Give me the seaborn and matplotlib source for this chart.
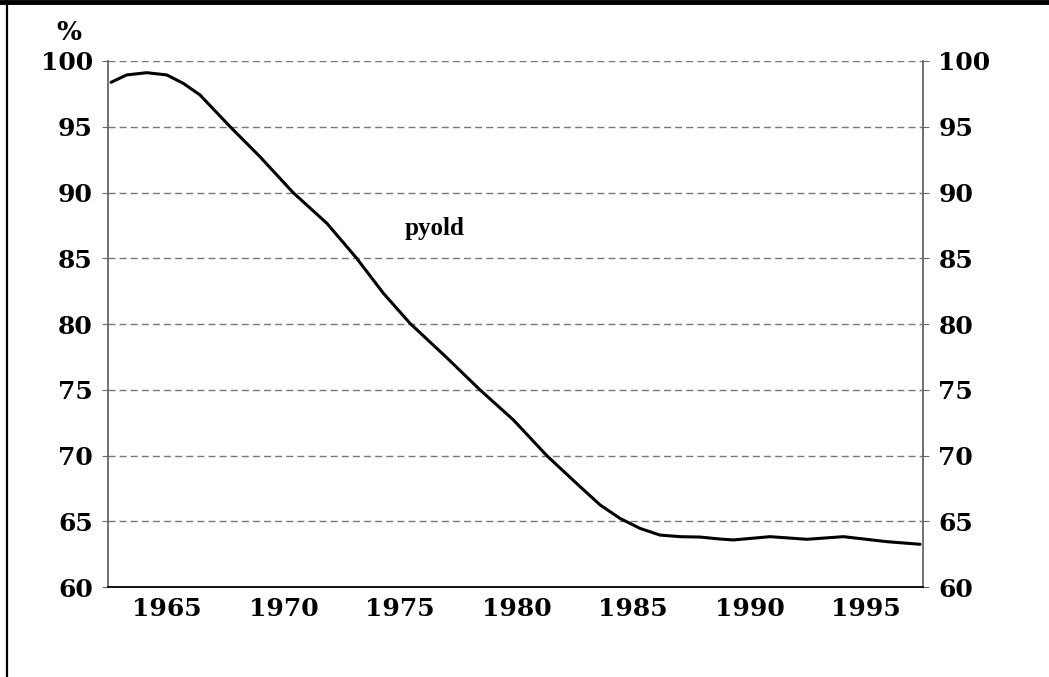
import pandas as pd
import seaborn as sns
import matplotlib.pyplot as plt
from matplotlib.lines import Line2D

# valores (año, %)
years = [1962.6, 1963.27, 1964.13, 1964.99, 1965.70, 1966.42, 1967.71, 1968.99,
         1970.42, 1971.86, 1973.14, 1974.29, 1975.43, 1977.0, 1978.44,
         1979.87, 1981.3, 1982.73, 1983.59, 1984.44, 1985.30, 1986.16, 1987.02,
         1987.88, 1988.73, 1989.31, 1990.88, 1992.46, 1994.03, 1995.89, 1997.32]
pyold = [98.38, 98.94, 99.11, 98.94, 98.30, 97.41, 95.0, 92.72,
         89.98, 87.66, 85.0, 82.33, 80.05, 77.45, 74.98,
         72.70, 69.99, 67.63, 66.24, 65.22, 64.46, 63.95, 63.83,
         63.80, 63.65, 63.58, 63.83, 63.63, 63.83, 63.45, 63.25]
y_ticks = [60, 65, 70, 75, 80, 85, 90, 95, 100]
x_labels = [1965, 1970, 1975, 1980, 1985, 1990, 1995]

df = pd.DataFrame({"year": years, "pyold": pyold})

sns.set_style("white")
plt.rcParams['font.family'] = ['DejaVu Serif']
plt.rcParams['text.color'] = 'black'

fig = plt.figure(figsize=(10.49, 6.77), dpi=100)
ax = fig.add_axes([0.103, 0.1329, 0.777, 0.777])

sns.lineplot(data=df, x="year", y="pyold", color="black", linewidth=2.2, ax=ax)

x0, x1 = 1962.47, 1997.45
ax.set_xlim(x0, x1)
ax.set_ylim(60, 100)

# grilla
for v in y_ticks[1:]:
    ax.axhline(v, color="#777777", lw=1, ls=(0, (5, 3)), zorder=0)

ax.set_yticks(y_ticks)
ax.set_yticklabels([str(v) for v in y_ticks], fontsize=18, fontweight="bold")
ax.tick_params(axis="y", which="both", left=True, right=True, labelleft=True,
               labelright=True, length=4, direction="out", color="#666666",
               labelcolor="black", pad=7)

ax.set_xticks(x_labels)
ax.set_xticklabels([str(v) for v in x_labels], fontsize=18, fontweight="bold")
ax.set_xticks([x0 + 2 * k for k in range(18)], minor=True)
ax.tick_params(axis="x", which="major", length=0, pad=7, labelcolor="black")
ax.tick_params(axis="x", which="minor", length=5, direction="out", color="black")

ax.spines["top"].set_visible(False)
ax.spines["left"].set_color("#666666")
ax.spines["right"].set_color("#666666")
ax.spines["left"].set_linewidth(1.3)
ax.spines["right"].set_linewidth(1.3)
ax.spines["bottom"].set_color("black")
ax.spines["bottom"].set_linewidth(1.3)

ax.set_xlabel("")
ax.set_ylabel("")

ax.text(1976.5, 87.3, "pyold", fontsize=18, fontweight="bold",
        family=["Liberation Serif"], ha="center", va="center")
fig.text(69 / 1049, 1 - 32 / 677, "%", fontsize=19, fontweight="bold",
         ha="center", va="center")

# marco
fig.add_artist(Line2D([0, 1], [1 - 2 / 677, 1 - 2 / 677], color="black", lw=3.5,
                      transform=fig.transFigure))
fig.add_artist(Line2D([7 / 1049, 7 / 1049], [0, 1], color="black", lw=1.6,
                      transform=fig.transFigure))

fig.savefig("out.png", dpi=100)
